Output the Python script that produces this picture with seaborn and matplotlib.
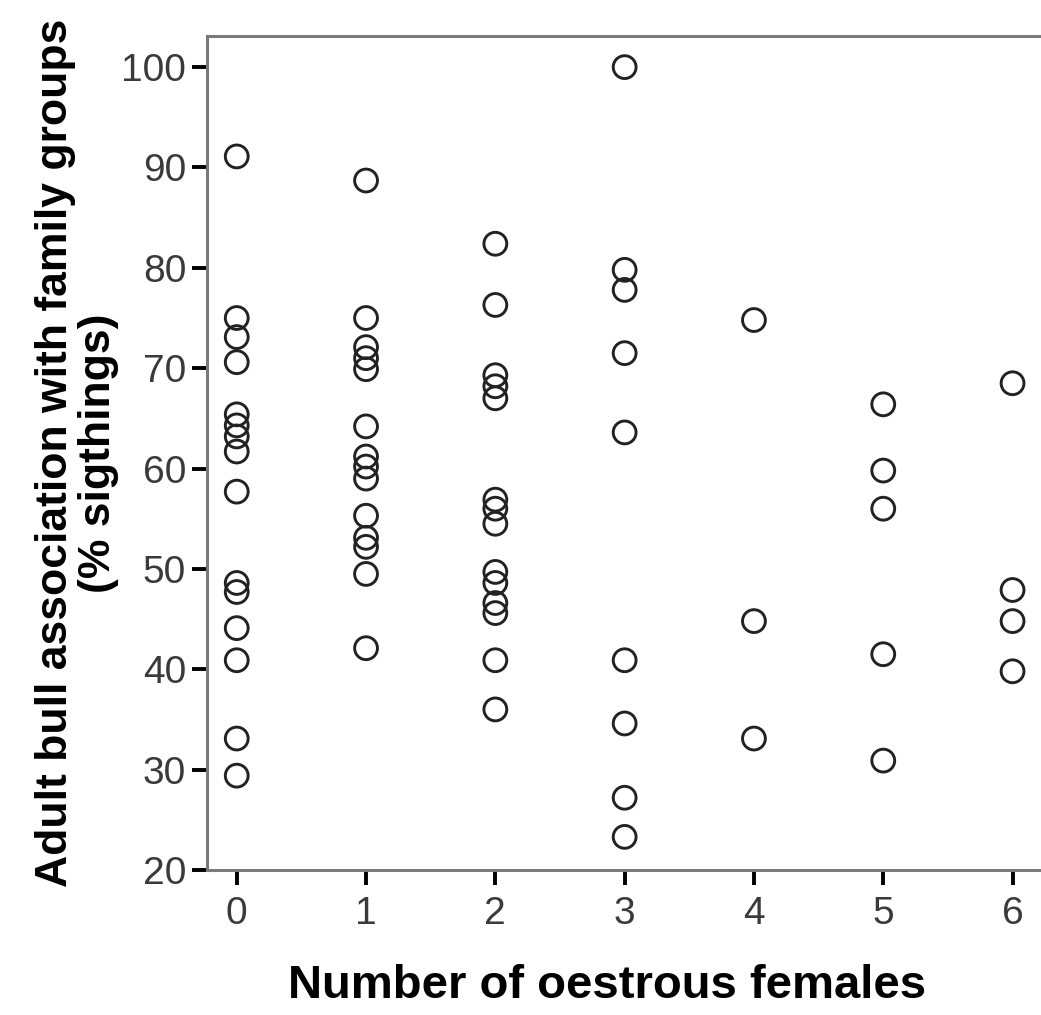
import matplotlib
matplotlib.use("Agg")
import matplotlib.pyplot as plt
import seaborn as sns
import pandas as pd

# Adult bull association (% sightings) grouped by number of oestrous females
oestrous_0 = [91.1, 75.0, 73.1, 70.6, 65.4, 64.3, 63.2, 61.7, 57.7, 48.6, 47.7, 44.1, 40.9, 33.1, 29.4]
oestrous_1 = [88.7, 75.0, 72.1, 71.0, 69.9, 64.2, 61.2, 60.2, 59.0, 55.3, 53.1, 52.2, 49.5, 42.1]
oestrous_2 = [82.4, 76.3, 69.3, 68.2, 67.0, 56.9, 56.0, 54.5, 49.7, 48.6, 46.6, 45.6, 40.9, 36.0]
oestrous_3 = [100.0, 79.8, 77.8, 71.5, 63.6, 40.9, 34.6, 27.2, 23.3]
oestrous_4 = [74.8, 44.8, 33.1]
oestrous_5 = [66.4, 59.8, 56.0, 41.5, 30.9]
oestrous_6 = [68.5, 47.9, 44.8, 39.8]

groups = [oestrous_0, oestrous_1, oestrous_2, oestrous_3, oestrous_4, oestrous_5, oestrous_6]
x_ticks = [0, 1, 2, 3, 4, 5, 6]
y_ticks = [20, 30, 40, 50, 60, 70, 80, 90, 100]

df = pd.DataFrame(
    [(n, v) for n, vals in zip(x_ticks, groups) for v in vals],
    columns=["females", "association"],
)

sns.set_theme(style="white")
plt.rcParams["font.family"] = ["Liberation Sans", "DejaVu Sans"]

fig = plt.figure(figsize=(10.41, 10.15), dpi=100)
ax = fig.add_axes([207 / 1041, 1 - 870 / 1015, 1 - 207 / 1041, (870 - 36) / 1015])

sns.scatterplot(
    data=df, x="females", y="association", ax=ax,
    marker="o", s=270, facecolors="none", edgecolor="#222222", linewidth=2.1,
    legend=False,
)

ax.set_xlim(-0.23, 6.22)
ax.set_ylim(20, 103.1)
ax.set_xticks(x_ticks)
ax.set_yticks(y_ticks)

for side in ["left", "top", "bottom"]:
    ax.spines[side].set_visible(True)
    ax.spines[side].set_color("#7a7a7a")
    ax.spines[side].set_linewidth(2.2)
ax.spines["right"].set_visible(False)

ax.tick_params(axis="both", which="major", direction="out", length=11, width=2.8,
               color="black", labelsize=28, labelcolor="#3a3a3a")
ax.tick_params(axis="x", bottom=True, top=False, pad=8)
ax.tick_params(axis="y", left=True, right=False, pad=4)

ax.set_xlabel("Number of oestrous females", fontsize=34, fontweight="bold",
              color="black")
ax.set_ylabel("Adult bull association with family groups\n(% sigthings)",
              fontsize=32, fontweight="bold", color="black",
              linespacing=1.05)
ax.xaxis.set_label_coords(0.48, -0.113)
ax.yaxis.set_label_coords(-0.106, 0.5)

fig.savefig("out.png", dpi=100, facecolor="white")
